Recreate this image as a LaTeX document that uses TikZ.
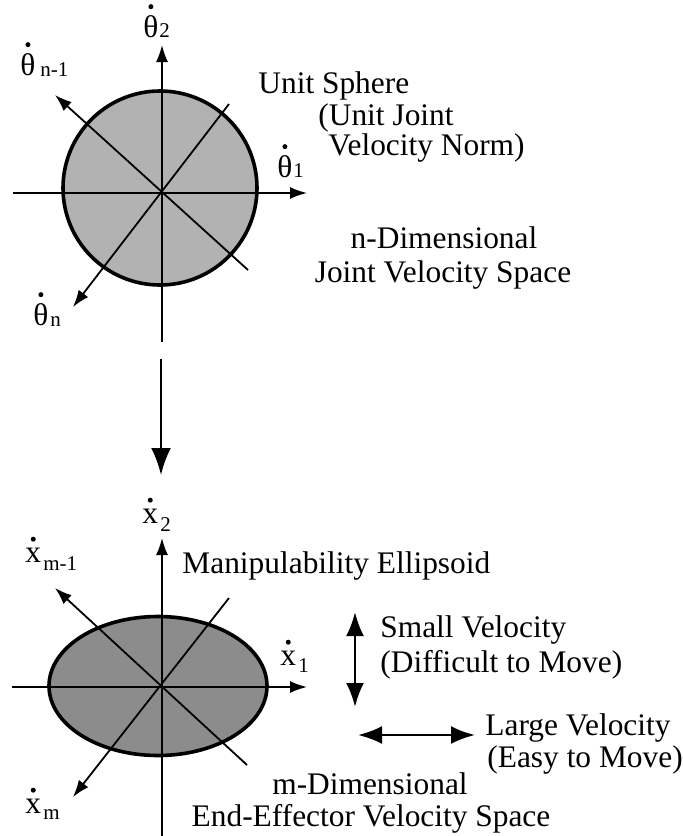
\documentclass[tikz,border=0pt]{standalone}
\usepackage{fontspec}
\setmainfont{Liberation Serif}
\usetikzlibrary{arrows.meta}

\tikzset{
  axis/.style={line width=0.9pt, -{Latex[length=8.5pt,width=6pt]}},
  twoway/.style={line width=1.3pt, {Latex[length=12pt,width=9pt]}-{Latex[length=12pt,width=9pt]}},
  lbl/.style={inner sep=0pt, anchor=base west, font=\fontsize{15.7}{18}\selectfont},
  clbl/.style={inner sep=0pt, anchor=base, font=\fontsize{15.7}{18}\selectfont},
  sublbl/.style={inner sep=0pt, anchor=base west, font=\fontsize{10.5}{12}\selectfont},
}

% velocity symbol: letter, dot above it, small index beside it
\newcommand{\velsym}[5]{%
  \node[lbl] (#1) at (#2) {#3};
  \fill ([yshift=4pt]#1.north) circle (1.25pt);
  \node[sublbl] (#1-idx) at (#4) {#5};
}

\begin{document}
\begin{tikzpicture}[x=0.5pt, y=-0.5pt]
  \useasboundingbox (0,0) rectangle (683,836);

  % 1. Joint velocity space (unit sphere)
  \filldraw[fill=black!30, line width=1.8pt] (160,188) circle (97);
  \draw[axis] (13,193) -- (307,193);
  \draw[axis] (162,342) -- (162,45);
  \draw[axis] (248,270) -- (55,95);
  \draw[axis] (229,104) -- (73,307);

  \velsym{th2}{143,37}{θ}{159,37}{2}
  \velsym{thn1}{20,75}{θ}{40,76}{n-1}
  \velsym{th1}{277,177}{θ}{293,177}{1}
  \velsym{thn}{33,325}{θ}{50,326}{n}

  \node[lbl] (sph1) at (258,93)  {Unit Sphere};
  \node[lbl] (sph2) at (318,125) {(Unit Joint};
  \node[lbl] (sph3) at (328,155) {Velocity Norm)};
  \node[clbl] (jsp1) at (444,248) {n-Dimensional};
  \node[clbl] (jsp2) at (443,282) {Joint Velocity Space};

  % 2. Mapping arrow
  \coordinate (mapA) at (161,359);
  \coordinate (mapB) at (161,475);
  \draw[line width=1.3pt, -{Latex[length=13.5pt,width=10pt]}] (mapA) -- (mapB);

  % 3. End-effector velocity space (ellipsoid)
  \filldraw[fill=black!45, line width=1.8pt] (158,686) ellipse [x radius=109, y radius=69.5];
  \draw[axis] (12,687) -- (307,687);
  \draw[axis] (162,836) -- (162,538);
  \draw[axis] (247,765) -- (55,588);
  \draw[axis] (229,598) -- (73,797);

  \velsym{x2}{142,523}{x}{160,531}{2}
  \velsym{xm1}{25,562}{x}{43,570}{m-1}
  \velsym{x1}{280,665}{x}{298,672}{1}
  \velsym{xm}{25,813}{x}{43,819}{m}

  \node[lbl] (ell) at (182,573) {Manipulability Ellipsoid};

  % 4. Small and large velocity directions
  \coordinate (smA) at (355,612);
  \coordinate (smB) at (355,707);
  \draw[twoway] (smA) -- (smB);
  \node[lbl] (sm1) at (380,637) {Small Velocity};
  \node[lbl] (sm2) at (380,672) {(Difficult to Move)};

  \coordinate (lgA) at (358,735);
  \coordinate (lgB) at (475,735);
  \draw[twoway] (lgA) -- (lgB);
  \node[lbl] (lg1) at (485,735) {Large Velocity};
  \node[lbl] (lg2) at (487,767) {(Easy to Move)};

  \node[clbl] (esp1) at (370,794) {m-Dimensional};
  \node[clbl] (esp2) at (371,826) {End-Effector Velocity Space};
\end{tikzpicture}
\end{document}
